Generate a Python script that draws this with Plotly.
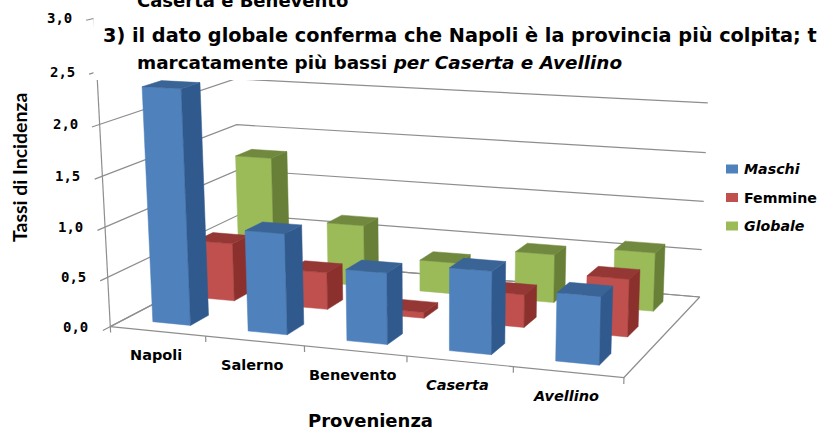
import numpy as np
import plotly.graph_objects as go

# Chart data
provinces = ["Napoli", "Salerno", "Benevento", "Caserta", "Avellino"]
maschi = [2.33, 1.00, 0.70, 0.80, 0.65]
femmine = [0.60, 0.38, 0.06, 0.33, 0.57]
globale = [1.30, 0.65, 0.33, 0.50, 0.60]
value_ticks = [0.0, 0.5, 1.0, 1.5, 2.0, 2.5, 3.0]

W, H = 819, 430

# Oblique view of the 3D box: category (x), series depth (y), value (z)
BOX_MIN = np.array([0.0, -0.2, -0.1])
BOX_MAX = np.array([5.0, 3.0, 3.0])
BOX_SCALE = np.array([2.0, 1.275, 1.493])
EYE = np.array([2.675, -7.278, 1.859])
TARGET = np.array([-0.075, -0.319, -0.156])
UP = np.array([-0.061, 0.183, 1.0])
OPTICAL = (358.491, 218.915)
FOCAL = (519.06 * np.exp(1.401), 519.06 * np.exp(1.195))


def project(pts):
    pts = np.atleast_2d(np.array(pts, float))
    p = BOX_SCALE * ((pts - BOX_MIN) / (BOX_MAX - BOX_MIN) - 0.5)
    f = TARGET - EYE
    f /= np.linalg.norm(f)
    s = np.cross(f, UP)
    s /= np.linalg.norm(s)
    u = np.cross(s, f)
    v = p - EYE
    d = v @ f
    return OPTICAL[0] + FOCAL[0] * (v @ s) / d, OPTICAL[1] - FOCAL[1] * (v @ u) / d


fig = go.Figure()


def line3d(pts, color="#8e8e8e", width=1.2):
    x, y = project(pts)
    fig.add_trace(go.Scatter(x=x, y=y, mode="lines", hoverinfo="skip", showlegend=False,
                             line=dict(color=color, width=width)))


def face(pts, color):
    x, y = project(pts + [pts[0]])
    fig.add_trace(go.Scatter(x=x, y=y, mode="lines", fill="toself", fillcolor=color,
                             hoverinfo="skip", showlegend=False,
                             line=dict(color=color, width=0.5)))


def bar(cat, depth, value, colors):
    x0, x1 = cat + 0.3, cat + 0.7
    y0, y1 = depth + 0.3, depth + 0.7
    front, side, top = colors
    face([(x0, y0, 0), (x1, y0, 0), (x1, y0, value), (x0, y0, value)], front)
    face([(x1, y0, 0), (x1, y1, 0), (x1, y1, value), (x1, y0, value)], side)
    face([(x0, y0, value), (x1, y0, value), (x1, y1, value), (x0, y1, value)], top)


# Walls and floor
for z in value_ticks:
    line3d([(0, -0.15, z), (0, 0, z), (0, 3, z), (5, 3, z)])
line3d([(0, 0, 0), (0, 0, 3)])
line3d([(0, 0, 0), (5, 0, 0), (5, 3, 0), (0, 3, 0), (0, 0, 0)])
for k in range(6):
    line3d([(k, 0, 0), (k, 0, -0.06)])

# Bars, back row first
series = [
    ("Globale", globale, 2, ("#9BBB59", "#677F36", "#71893F")),
    ("Femmine", femmine, 1, ("#C0504D", "#8C302E", "#953735")),
    ("Maschi", maschi, 0, ("#4F81BD", "#305A8D", "#3A6496")),
]
for name, values, depth, colors in series:
    for i, v in enumerate(values):
        bar(i, depth, v, colors)

annotations = []
LABEL = "DejaVu Sans"


def text(x, y, s, size, family=LABEL, anchor="center", angle=0):
    annotations.append(dict(x=x, y=y, xref="x", yref="y", text=f"<b>{s}</b>", showarrow=False,
                            xanchor=anchor, yanchor="middle", textangle=angle,
                            font=dict(family=family, size=size, color="black")))


# Value tick labels next to the left axis
for z in value_ticks:
    px, py = project([(0, 0, z)])
    text(px[0] - 20, py[0], f"{z:.1f}".replace(".", ","), 14, family="DejaVu Sans Mono", anchor="right")

# Category labels under the front edge
for i, name in enumerate(provinces):
    px, py = project([(i + 0.5, 0, 0)])
    label = f"<i>{name}</i>" if name in ("Caserta", "Avellino") else name
    text(px[0] - 2, py[0] + 24, label, 14.5)

text(19, 168, "Tassi di Incidenza", 19.5, family="Lato", angle=-90)
text(370, 420, "Provenienza", 18)

# Slide text that sits over the top of the plot
shapes = [dict(type="rect", xref="x", yref="y", x0=93.5, x1=W, y0=-2, y1=80,
               fillcolor="white", line_width=0, layer="above")]
text(135, 0, "Caserta e Benevento", 18, anchor="left")
text(101, 35, "3) il dato globale conferma che Napoli è la provincia più colpita; t", 19.3, anchor="left")
text(135, 62, "marcatamente più bassi <i>per Caserta e Avellino</i>", 18.4, anchor="left")

# Legend
for (name, _, _, colors), yc in zip(reversed(series), (169, 197.5, 226)):
    shapes.append(dict(type="rect", xref="x", yref="y", x0=726, x1=738, y0=yc - 4.5, y1=yc + 4.5,
                       fillcolor=colors[0], line_width=0, layer="above"))
    label = name if name == "Femmine" else f"<i>{name}</i>"
    text(742, yc, label, 14.2, anchor="left")

fig.update_layout(
    width=W, height=H, margin=dict(l=0, r=0, t=0, b=0),
    paper_bgcolor="white", plot_bgcolor="white", showlegend=False,
    xaxis=dict(range=[0, W], visible=False, fixedrange=True),
    yaxis=dict(range=[H, 0], visible=False, fixedrange=True),
    shapes=shapes, annotations=annotations,
)
fig.write_html("out.html", config={"displayModeBar": False})
